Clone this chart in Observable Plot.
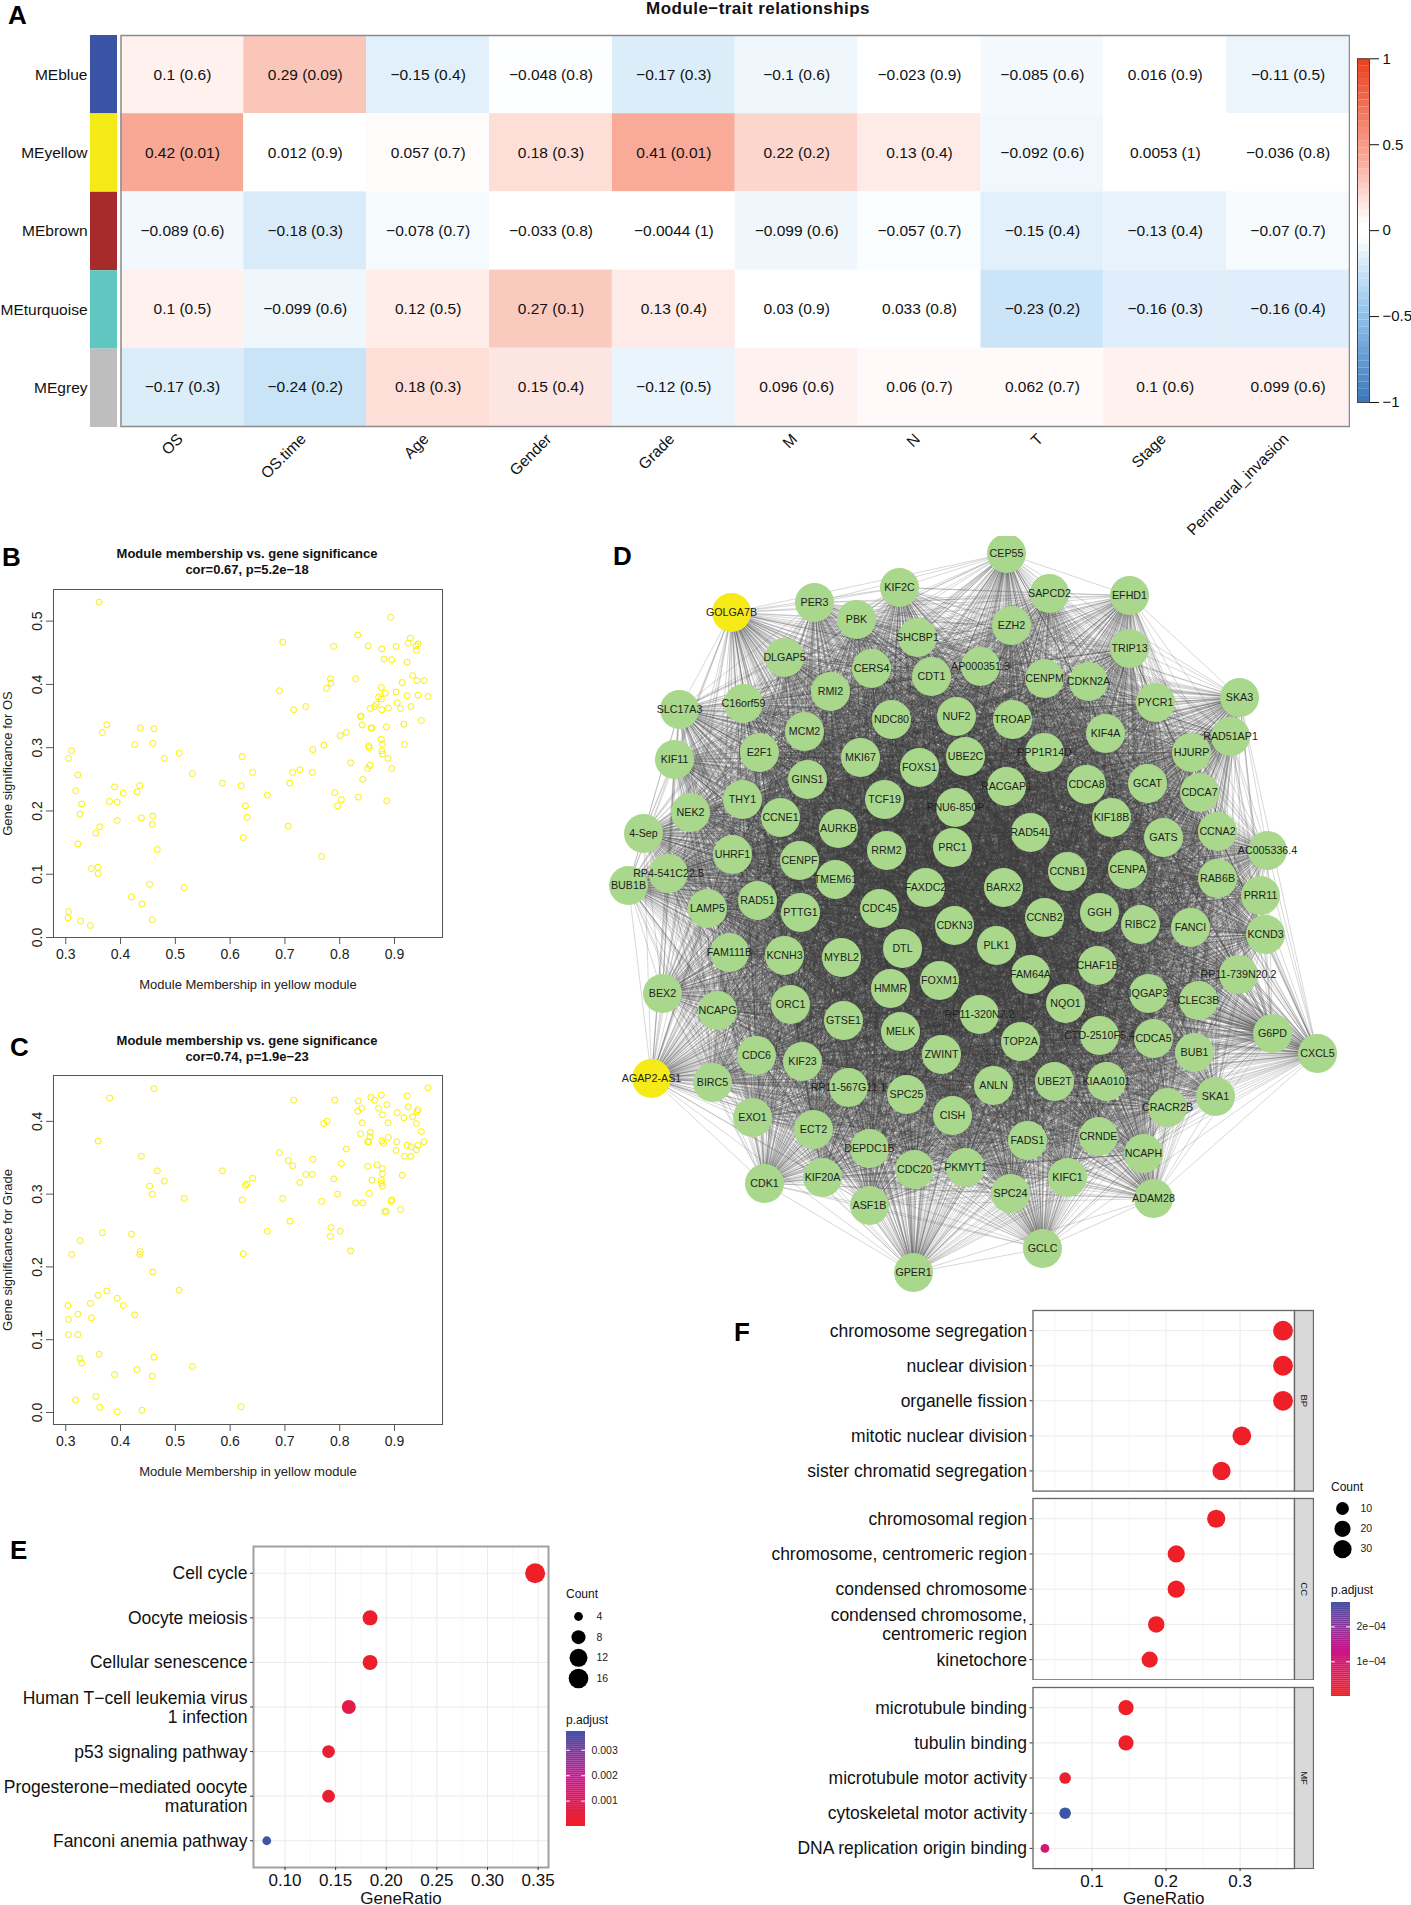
<!DOCTYPE html>
<html><head><meta charset="utf-8">
<script src="https://cdn.jsdelivr.net/npm/d3@7"></script>
<script src="https://cdn.jsdelivr.net/npm/@observablehq/plot@0.6"></script>
<style>
html,body{margin:0;padding:0;background:#fff}
#page{position:relative;width:1411px;height:1905px;overflow:hidden;background:#fff;font-family:"Liberation Sans",Arial,sans-serif;color:#111}
#page svg{position:absolute;background:transparent;max-width:none}
.note{position:absolute;white-space:nowrap;line-height:1}
</style></head><body><div id="page"></div>
<script>
const FONT = '"Liberation Sans",Arial,sans-serif';
// ---------- A: module-trait heat map ----------
const traits = ["OS","OS.time","Age","Gender","Grade","M","N","T","Stage","Perineural_invasion"];
const modules = ["MEblue","MEyellow","MEbrown","MEturquoise","MEgrey"];
const moduleColors = ["#3A53A4","#F4EB16","#A72B2A","#60C6C0","#BEBEBE"];
const corBlue = [0.1,0.29,-0.15,-0.048,-0.17,-0.1,-0.023,-0.085,0.016,-0.11];
const pBlue = ["0.6","0.09","0.4","0.8","0.3","0.6","0.9","0.6","0.9","0.5"];
const corYellow = [0.42,0.012,0.057,0.18,0.41,0.22,0.13,-0.092,0.0053,-0.036];
const pYellow = ["0.01","0.9","0.7","0.3","0.01","0.2","0.4","0.6","1","0.8"];
const corBrown = [-0.089,-0.18,-0.078,-0.033,-0.0044,-0.099,-0.057,-0.15,-0.13,-0.07];
const pBrown = ["0.6","0.3","0.7","0.8","1","0.6","0.7","0.4","0.4","0.7"];
const corTurq = [0.1,-0.099,0.12,0.27,0.13,0.03,0.033,-0.23,-0.16,-0.16];
const pTurq = ["0.5","0.6","0.5","0.1","0.4","0.9","0.8","0.2","0.3","0.4"];
const corGrey = [-0.17,-0.24,0.18,0.15,-0.12,0.096,0.06,0.062,0.1,0.099];
const pGrey = ["0.3","0.2","0.3","0.4","0.5","0.6","0.7","0.7","0.6","0.6"];
const corRows = [corBlue,corYellow,corBrown,corTurq,corGrey];
const pRows = [pBlue,pYellow,pBrown,pTurq,pGrey];
const heatDomain = [-1,-0.5,-0.24,-0.04,0.04,0.42,1];
const heatRange = ["#3A76B8","#8FC0EA","#C9E3F7","#FFFFFF","#FFFFFF","#F9A896","#E8401F"];
const colorbarTicks = [-1,-0.5,0,0.5,1];

// ---------- B, C: scatter [module membership, gene significance] ----------
const scatterOS = [[0.361,0.530],[0.893,0.506],[0.696,0.467],[0.833,0.478],[0.852,0.461],[0.789,0.460],[0.877,0.456],[0.903,0.460],[0.925,0.465],[0.929,0.473],[0.939,0.461],[0.943,0.464],[0.940,0.454],[0.881,0.440],[0.895,0.439],[0.923,0.435],[0.933,0.414],[0.829,0.409],[0.783,0.409],[0.784,0.402],[0.776,0.394],[0.690,0.390],[0.914,0.403],[0.941,0.406],[0.954,0.406],[0.876,0.395],[0.903,0.388],[0.883,0.386],[0.923,0.382],[0.943,0.383],[0.961,0.381],[0.871,0.380],[0.876,0.377],[0.905,0.371],[0.867,0.369],[0.864,0.365],[0.930,0.365],[0.738,0.365],[0.856,0.362],[0.877,0.360],[0.889,0.363],[0.911,0.362],[0.716,0.360],[0.839,0.350],[0.838,0.349],[0.949,0.343],[0.841,0.336],[0.917,0.337],[0.885,0.333],[0.857,0.331],[0.859,0.331],[0.812,0.324],[0.801,0.319],[0.876,0.313],[0.878,0.306],[0.918,0.305],[0.771,0.304],[0.853,0.303],[0.854,0.300],[0.751,0.297],[0.877,0.295],[0.878,0.290],[0.622,0.286],[0.888,0.283],[0.820,0.276],[0.855,0.272],[0.851,0.267],[0.895,0.267],[0.727,0.265],[0.714,0.261],[0.750,0.261],[0.641,0.261],[0.842,0.250],[0.709,0.244],[0.620,0.240],[0.586,0.244],[0.668,0.225],[0.791,0.229],[0.834,0.222],[0.803,0.218],[0.886,0.216],[0.796,0.208],[0.628,0.208],[0.631,0.190],[0.706,0.176],[0.624,0.158],[0.767,0.128],[0.311,0.295],[0.305,0.283],[0.322,0.257],[0.318,0.232],[0.329,0.211],[0.326,0.195],[0.322,0.148],[0.355,0.165],[0.362,0.175],[0.375,0.336],[0.367,0.324],[0.436,0.331],[0.461,0.330],[0.426,0.305],[0.459,0.307],[0.507,0.291],[0.480,0.283],[0.531,0.259],[0.389,0.238],[0.405,0.228],[0.435,0.240],[0.430,0.230],[0.380,0.215],[0.394,0.214],[0.394,0.185],[0.438,0.189],[0.459,0.192],[0.458,0.179],[0.467,0.139],[0.347,0.109],[0.359,0.111],[0.359,0.101],[0.453,0.084],[0.516,0.079],[0.420,0.064],[0.439,0.053],[0.305,0.041],[0.304,0.031],[0.327,0.026],[0.345,0.019],[0.458,0.028]];
const scatterGrade = [[0.461,0.445],[0.380,0.432],[0.961,0.446],[0.716,0.429],[0.791,0.429],[0.834,0.428],[0.857,0.433],[0.864,0.429],[0.876,0.436],[0.923,0.435],[0.886,0.423],[0.925,0.420],[0.840,0.418],[0.871,0.418],[0.833,0.414],[0.905,0.412],[0.878,0.409],[0.941,0.413],[0.943,0.416],[0.933,0.406],[0.917,0.405],[0.777,0.400],[0.771,0.397],[0.841,0.398],[0.888,0.398],[0.940,0.397],[0.949,0.386],[0.856,0.385],[0.838,0.383],[0.855,0.379],[0.889,0.378],[0.359,0.373],[0.853,0.372],[0.851,0.372],[0.877,0.373],[0.880,0.370],[0.904,0.372],[0.923,0.367],[0.954,0.372],[0.943,0.367],[0.930,0.365],[0.812,0.362],[0.940,0.361],[0.903,0.360],[0.690,0.357],[0.438,0.352],[0.918,0.352],[0.930,0.352],[0.751,0.348],[0.706,0.346],[0.714,0.339],[0.803,0.342],[0.851,0.338],[0.868,0.340],[0.878,0.335],[0.467,0.332],[0.586,0.332],[0.878,0.328],[0.738,0.327],[0.750,0.327],[0.914,0.326],[0.641,0.322],[0.789,0.321],[0.859,0.319],[0.876,0.319],[0.480,0.318],[0.727,0.316],[0.876,0.315],[0.878,0.311],[0.631,0.314],[0.628,0.312],[0.453,0.311],[0.458,0.300],[0.796,0.300],[0.854,0.301],[0.516,0.294],[0.696,0.294],[0.622,0.292],[0.767,0.290],[0.829,0.288],[0.842,0.288],[0.895,0.292],[0.894,0.290],[0.911,0.279],[0.882,0.276],[0.885,0.276],[0.709,0.263],[0.784,0.254],[0.668,0.249],[0.801,0.249],[0.367,0.247],[0.783,0.242],[0.420,0.245],[0.326,0.236],[0.820,0.222],[0.624,0.218],[0.436,0.221],[0.435,0.217],[0.311,0.217],[0.459,0.193],[0.507,0.168],[0.375,0.167],[0.359,0.161],[0.394,0.157],[0.345,0.150],[0.304,0.147],[0.405,0.147],[0.322,0.135],[0.426,0.134],[0.347,0.130],[0.305,0.128],[0.305,0.107],[0.322,0.107],[0.361,0.080],[0.461,0.076],[0.326,0.074],[0.329,0.068],[0.531,0.063],[0.430,0.059],[0.389,0.052],[0.458,0.050],[0.355,0.022],[0.318,0.017],[0.362,0.007],[0.620,0.008],[0.394,0.001],[0.439,0.003]];
const membershipTicks = [0.3,0.4,0.5,0.6,0.7,0.8,0.9];

// ---------- D: network, gene name and layout position ----------
const hubGenes = ["GOLGA7B","AGAP2-AS1"];
const networkNodes = [["CEP55",1006,553],["KIF2C",899,587],["SAPCD2",1049,593],["EFHD1",1129,595],["PER3",814,602],["GOLGA7B",731,612],["PBK",856,619],["EZH2",1011,625],["SHCBP1",917,637],["TRIP13",1129,648],["DLGAP5",784,657],["AP000351.3",980,666],["CERS4",871,668],["CDT1",931,676],["CENPM",1044,678],["CDKN2A",1088,681],["RMI2",830,691],["PYCR1",1155,702],["SKA3",1239,697],["SLC17A3",679,709],["C16orf59",743,703],["NDC80",891,719],["NUF2",956,716],["TROAP",1012,719],["KIF4A",1105,733],["MCM2",804,731],["RAD51AP1",1230,736],["E2F1",759,752],["KIF11",674,759],["MKI67",860,757],["UBE2C",965,756],["PPP1R14D",1044,752],["HJURP",1191,752],["FOXS1",919,767],["GINS1",807,779],["RACGAP1",1006,786],["CDCA8",1086,784],["GCAT",1147,783],["CDCA7",1199,792],["TCF19",884,799],["THY1",742,799],["NEK2",690,812],["RNU6-850P",955,807],["CCNE1",780,817],["KIF18B",1111,817],["AURKB",838,828],["4-Sep",643,833],["RAD54L",1030,832],["GATS",1163,837],["CCNA2",1217,831],["UHRF1",732,854],["RRM2",886,850],["PRC1",952,847],["CENPF",799,860],["AC005336.4",1267,850],["CCNB1",1067,871],["CENPA",1127,869],["RAB6B",1217,878],["TMEM61",835,879],["RP4-541C22.5",668,873],["BUB1B",628,885],["FAXDC2",925,887],["BARX2",1003,887],["PRR11",1260,895],["LAMP5",707,908],["RAD51",757,900],["PTTG1",800,912],["CDC45",879,908],["CDKN3",954,925],["CCNB2",1044,917],["GGH",1099,912],["RIBC2",1140,924],["FANCI",1190,927],["KCND3",1265,934],["FAM111B",729,952],["KCNH3",784,955],["MYBL2",841,957],["DTL",902,948],["PLK1",996,945],["CHAF1B",1097,965],["FAM64A",1030,974],["RP11-739N20.2",1238,974],["FOXM1",939,980],["HMMR",890,988],["IQGAP3",1148,993],["BEX2",662,993],["CLEC3B",1198,1000],["NQO1",1065,1003],["ORC1",790,1004],["NCAPG",717,1010],["RP11-320N7.2",979,1014],["GTSE1",843,1020],["MELK",900,1031],["G6PD",1272,1033],["CTD-2510F5.4",1099,1035],["CDCA5",1153,1038],["TOP2A",1020,1041],["BUB1",1194,1052],["CXCL5",1317,1053],["ZWINT",941,1054],["CDC6",756,1055],["KIF23",802,1061],["AGAP2-AS1",651,1078],["BIRC5",712,1082],["UBE2T",1054,1081],["KIAA0101",1106,1081],["ANLN",993,1085],["RP11-567G11.1",848,1087],["SPC25",906,1094],["SKA1",1215,1096],["CRACR2B",1167,1107],["EXO1",752,1117],["CISH",952,1115],["ECT2",813,1129],["CRNDE",1098,1136],["FADS1",1027,1140],["DEPDC1B",869,1148],["NCAPH",1143,1153],["CDC20",914,1169],["PKMYT1",965,1167],["KIF20A",822,1177],["KIFC1",1067,1177],["CDK1",764,1183],["SPC24",1010,1193],["ASF1B",869,1205],["ADAM28",1153,1198],["GCLC",1042,1248],["GPER1",913,1272]];

// ---------- E: KEGG dot plot ----------
const keggTerms = ["Cell cycle","Oocyte meiosis","Cellular senescence","Human T\u2212cell leukemia virus\n1 infection","p53 signaling pathway","Progesterone\u2212mediated oocyte\nmaturation","Fanconi anemia pathway"];
const keggRatio = [0.347,0.184,0.184,0.163,0.143,0.143,0.082];
const keggCount = [17,9,9,8,7,7,4];
const keggP = [0.00001,0.0001,0.0001,0.0006,0.0002,0.0002,0.0037];

// ---------- F: GO dot plot ----------
const bpTerms = ["chromosome segregation","nuclear division","organelle fission","mitotic nuclear division","sister chromatid segregation"];
const bpRatio = [0.358,0.358,0.358,0.3024,0.2749];
const bpCount = [39,39,39,33,30];
const bpP = [0,0,0,0,0];
const ccTerms = ["chromosomal region","chromosome, centromeric region","condensed chromosome","condensed chromosome,\ncentromeric region","kinetochore"];
const ccRatio = [0.2678,0.2138,0.2138,0.1868,0.1779];
const ccCount = [30,24,24,21,20];
const ccP = [0,0,0,0,0];
const mfTerms = ["microtubule binding","tubulin binding","microtubule motor activity","cytoskeletal motor activity","DNA replication origin binding"];
const mfRatio = [0.1459,0.1459,0.0637,0.0637,0.0364];
const mfCount = [16,16,7,7,4];
const mfP = [0.000001,0.000001,0.00001,0.00027,0.0001];

const page = document.getElementById("page");
function place(svg,left,top){svg.style.left=left+"px";svg.style.top=top+"px";page.appendChild(svg);return svg;}
function note(text,x,baseline,size,o={}){
  const d=document.createElement("div");d.className="note";d.textContent=text;
  d.style.left=x+"px";d.style.top=(baseline-0.8465*size)+"px";d.style.fontSize=size+"px";
  d.style.fontWeight=o.bold?"bold":"normal";d.style.color=o.color||"#111";
  if(o.spacing)d.style.letterSpacing=o.spacing;
  if(o.center)d.style.transform="translateX(-50%)";
  page.appendChild(d);
}
const minus = s => String(s).replace("-","\u2212");

// panel letters
for (const [t,x,y] of [["A",8,24],["B",2,566],["C",10,1056],["D",613,565],["E",10,1559],["F",734,1341]])
  note(t,x,y,26,{bold:true,color:"#000"});

// ---------- A ----------
note("Module\u2212trait relationships",758,14.5,17,{bold:true,center:true,spacing:"0.45px"});
const heatCells = modules.flatMap((m,i)=>traits.map((t,j)=>({module:m,trait:t,cor:corRows[i][j],label:minus(corRows[i][j])+" ("+pRows[i][j]+")"})));
place(Plot.plot({
  width:1350,height:507,marginLeft:120.5,marginRight:1,marginTop:1,marginBottom:115,
  style:{fontFamily:FONT},
  x:{domain:traits,padding:0,round:false},y:{domain:modules,padding:0,round:false,axis:null},
  color:{type:"linear",domain:heatDomain,range:heatRange},
  marks:[
    Plot.cell(heatCells,{x:"trait",y:"module",fill:"cor"}),
    Plot.text(heatCells,{x:"trait",y:"module",text:"label",fontSize:15.5,fill:"#111"}),
    Plot.frame({stroke:"#8a8a8a",strokeWidth:1.5}),
    Plot.axisX({tickRotate:-45,tickSize:0,tickPadding:10,dx:-2,fontSize:15.5,label:null,fill:"#111"})
  ]
}),0,34);
place(Plot.plot({
  width:118,height:394,marginLeft:90,marginRight:1,marginTop:1,marginBottom:1,
  style:{fontFamily:FONT},
  x:{domain:[0,1],axis:null},y:{domain:modules,padding:0,round:false},
  marks:[
    Plot.barX(modules,{y:d=>d,x1:0,x2:1,fill:(d,i)=>moduleColors[i]}),
    Plot.axisY({tickSize:0,tickPadding:3,fontSize:15.5,label:null,fill:"#111"})
  ]
}),0,34);
const heatLevels = d3.range(-1,1,0.04);
place(Plot.plot({
  width:71,height:360,marginLeft:17,marginRight:42,marginTop:8.3,marginBottom:8,
  style:{fontFamily:FONT},
  x:{domain:[0,1],axis:null},y:{domain:[-1,1]},
  color:{type:"linear",domain:heatDomain,range:heatRange},
  marks:[
    Plot.rect(heatLevels,{x1:0,x2:1,y1:d=>d,y2:d=>d+0.04,fill:d=>d+0.02}),
    Plot.frame({stroke:"#444",strokeWidth:1}),
    Plot.axisY({anchor:"right",ticks:colorbarTicks,tickSize:9,tickPadding:4,fontSize:15,label:null,tickFormat:minus,fill:"#111",stroke:"#111"})
  ]
}),1340,50);

// ---------- B, C ----------
function scatter(points,yDomain,yTicks,yFmt,yLabel,top,h,title,baseTitle){
  note("Module membership vs. gene significance",247,baseTitle,13,{bold:true,center:true});
  note(title,247,baseTitle+16,13,{bold:true,center:true});
  place(Plot.plot({
    width:450,height:h+62,marginLeft:53,marginRight:8,marginTop:1,marginBottom:61,
    style:{fontFamily:FONT},
    x:{domain:[0.2776,0.9876]},y:{domain:yDomain},
    marks:[
      Plot.frame({stroke:"#555",strokeWidth:1}),
      Plot.dot(points,{x:d=>d[0],y:d=>d[1],r:3,stroke:"#FAF000",strokeWidth:1,fill:"none"}),
      Plot.axisX({ticks:membershipTicks,tickSize:7,tickPadding:5,fontSize:14,stroke:"#555",fill:"#222",tickFormat:".1f",label:null}),
      Plot.axisY({ticks:yTicks,tickSize:7,tickPadding:5,fontSize:14,tickRotate:-90,stroke:"#555",fill:"#222",tickFormat:yFmt,label:null}),
      Plot.text(["Module Membership in yellow module"],{frameAnchor:"bottom",dy:51,fontSize:13,fill:"#222"}),
      Plot.text([yLabel],{frameAnchor:"left",textAnchor:"middle",rotate:-90,dx:-46,fontSize:13,fill:"#222"})
    ]
  }),0,top);
}
scatter(scatterOS,[0,0.55],[0,0.1,0.2,0.3,0.4,0.5],".1f","Gene significance for OS",588,348,"cor=0.67, p=5.2e\u221218",558);
scatter(scatterGrade,[-0.0165,0.463],[0,0.1,0.2,0.3,0.4],".1f","Gene significance for Grade",1074,349,"cor=0.74, p=1.9e\u221223",1045);

// ---------- D ----------
const edges = d3.range(networkNodes.length).flatMap(i=>d3.range(i+1,networkNodes.length).map(j=>[networkNodes[i],networkNodes[j]]));
place(Plot.plot({
  width:740,height:764,margin:0,
  style:{fontFamily:FONT},
  x:{domain:[600,1340],range:[0,740],axis:null},
  y:{domain:[536,1300],range:[0,764],axis:null},
  marks:[
    Plot.link(edges,{x1:d=>d[0][1],y1:d=>d[0][2],x2:d=>d[1][1],y2:d=>d[1][2],stroke:"#3a3a3a",strokeWidth:0.4,strokeOpacity:0.5}),
    Plot.dot(networkNodes,{x:d=>d[1],y:d=>d[2],r:19.5,fill:d=>hubGenes.includes(d[0])?"#F6EB16":"#A9D78B",stroke:"none"}),
    Plot.text(networkNodes,{x:d=>d[1],y:d=>d[2],text:d=>d[0],fontSize:10.7,fill:"#222"})
  ]
}),600,536);

// ---------- E, F ----------
const RED="#EE1F26",MAGENTA="#C9158C",BLUE="#3D55A6";
function dotPanel({terms,ratio,count,p,xDomain,majors,minors,fmt,rOpt,cOpt,left,top,boxLeft,boxRight,boxH,bottom,stroke,strokeWidth,labelOffset,padding}){
  const rows=terms.map((t,i)=>({t,x:ratio[i],n:count[i],p:p[i]}));
  const axis=!!bottom;
  const marks=[
    Plot.ruleX(minors,{stroke:"#F2F2F2",strokeWidth:0.7}),
    Plot.ruleX(majors,{stroke:"#EBEBEB",strokeWidth:1}),
    Plot.ruleY(terms,{stroke:"#EBEBEB",strokeWidth:1}),
    Plot.dot(rows,{x:"x",y:"t",r:"n",fill:"p"}),
    Plot.frame({stroke,strokeWidth}),
    Plot.axisY(terms,{tickSize:3,tickPadding:3,fontSize:17.5,lineHeight:1.08,label:null,fill:"#111",stroke:"#333"})
  ];
  if(axis) marks.push(Plot.axisX({ticks:majors,tickSize:3,tickPadding:3,fontSize:17,fill:"#111",stroke:"#333",tickFormat:fmt,
    label:"GeneRatio",labelAnchor:"center",labelArrow:"none",labelOffset}));
  place(Plot.plot({
    width:boxRight+24,height:boxH+(bottom||1)+1,marginLeft:boxLeft,marginRight:24,marginTop:1,marginBottom:bottom||1,
    style:{fontFamily:FONT},
    x:{domain:xDomain,axis:axis?undefined:null},y:{type:"point",domain:terms,padding,round:false,axis:null},
    r:rOpt,color:cOpt,marks
  }),left,top);
}
function sizeLegend(values,cx,y0,y1,labelX,rOpt){
  place(Plot.plot({
    width:70,height:y1-y0+30,marginLeft:15,marginRight:54,marginTop:15,marginBottom:15,
    style:{fontFamily:FONT},
    x:{domain:[0,1],axis:null},y:{type:"point",domain:values,padding:0,round:false,axis:null},r:rOpt,
    marks:[
      Plot.dot(values,{x:0,y:d=>d,r:d=>d,fill:"#000"}),
      Plot.text(values,{x:0,y:d=>d,text:d=>String(d),dx:labelX-cx,textAnchor:"start",fontSize:10.5,fill:"#222"})
    ]
  }),cx-15,y0-15);
}
function colorLegend(domainMax,ticks,fmt,left,top,w,h,cOpt){
  const steps=d3.range(0,domainMax,domainMax/48);
  place(Plot.plot({
    width:w+50,height:h,marginLeft:0,marginRight:50,marginTop:0,marginBottom:0,
    style:{fontFamily:FONT},
    x:{domain:[0,1],axis:null},y:{domain:[0,domainMax]},color:cOpt,
    marks:[
      Plot.rect(steps,{x1:0,x2:1,y1:d=>d,y2:d=>d+domainMax/48*1.05,fill:d=>d}),
      Plot.ruleY(ticks,{x1:0,x2:0.2,stroke:"#fff",strokeWidth:1}),
      Plot.ruleY(ticks,{x1:0.8,x2:1,stroke:"#fff",strokeWidth:1}),
      Plot.axisY({anchor:"right",ticks,tickSize:0,tickPadding:6,fontSize:10.5,label:null,fill:"#222",tickFormat:fmt})
    ]
  }),left,top);
}
const keggR={type:"linear",domain:[4,8,12,17],range:[4.4,7,9,10]};
const keggC={type:"linear",domain:[0,0.00187,0.00374],range:[RED,MAGENTA,BLUE]};
dotPanel({terms:keggTerms,ratio:keggRatio,count:keggCount,p:keggP,xDomain:[0.0689,0.3602],
  majors:[0.10,0.15,0.20,0.25,0.30,0.35],minors:[0.125,0.175,0.225,0.275,0.325],fmt:d=>d.toFixed(2),
  rOpt:keggR,cOpt:keggC,left:0,top:1545,boxLeft:253,boxRight:548,boxH:321,bottom:38,stroke:"#A0A0A0",strokeWidth:2,labelOffset:36,padding:0.6});
note("Count",566,1598,12);
sizeLegend([4,8,12,16],578,1615.7,1677.7,596,keggR);
note("p.adjust",566,1724,12);
colorLegend(0.00374,[0.001,0.002,0.003],d=>d.toFixed(3),566,1731,19,95,keggC);

const goR={type:"linear",domain:[4,7,16,24,39],range:[4.4,5.8,7.6,8.6,9.9]};
const goC={type:"linear",domain:[0,0.000135,0.00027],range:[RED,MAGENTA,BLUE]};
const goX=[0.0203,0.3735],goMaj=[0.1,0.2,0.3],goMin=[0.05,0.15,0.25,0.35];
const goBase={xDomain:goX,majors:goMaj,minors:goMin,fmt:d=>d.toFixed(1),rOpt:goR,cOpt:goC,left:0,boxLeft:1032.5,boxRight:1294,stroke:"#666",strokeWidth:1.3,padding:0.575};
dotPanel({...goBase,terms:bpTerms,ratio:bpRatio,count:bpCount,p:bpP,top:1309.4,boxH:180.6});
dotPanel({...goBase,terms:ccTerms,ratio:ccRatio,count:ccCount,p:ccP,top:1497,boxH:181.4});
dotPanel({...goBase,terms:mfTerms,ratio:mfRatio,count:mfCount,p:mfP,top:1685.5,boxH:181.1,bottom:37.4,labelOffset:35.5});
[["BP",1309.4,182.6],["CC",1497,183.4],["MF",1685.5,183.1]].forEach(([s,top,h])=>{
  place(Plot.plot({width:21,height:h,margin:1,style:{fontFamily:FONT},
    marks:[Plot.frame({fill:"#D9D9D9",stroke:"#666",strokeWidth:1.3}),
           Plot.text([s],{frameAnchor:"middle",rotate:90,fontSize:9.5,fill:"#222"})]}),1293,top);
});
note("Count",1331,1491.6,12);
sizeLegend([10,20,30],1342,1508.4,1549,1360,goR);
note("p.adjust",1331,1594.3,12);
colorLegend(0.00027,[0.0001,0.0002],d=>minus(d3.format(".0e")(d)).replace("e\u2212","e\u22120").replace("e-","e\u22120"),1331,1601.8,19,94.2,goC);
</script></body></html>
